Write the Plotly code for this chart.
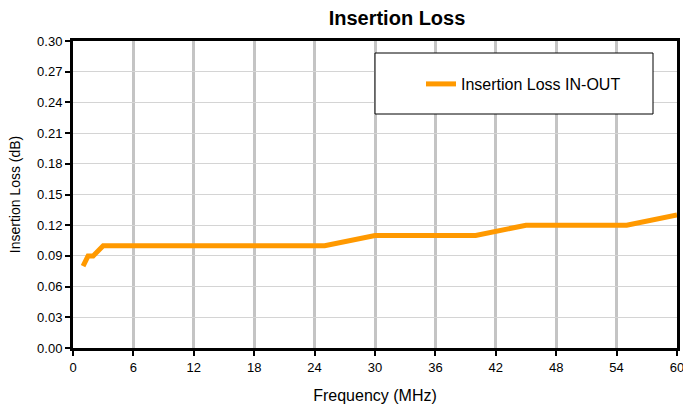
import plotly.graph_objects as go

freq_mhz = [1, 1.5, 2, 3, 25, 30, 40, 45, 55, 60]
insertion_loss_db = [0.08, 0.09, 0.09, 0.10, 0.10, 0.11, 0.11, 0.12, 0.12, 0.13]
series_name = "Insertion Loss IN-OUT"
x_ticks = [0, 6, 12, 18, 24, 30, 36, 42, 48, 54, 60]
y_ticks = [0.00, 0.03, 0.06, 0.09, 0.12, 0.15, 0.18, 0.21, 0.24, 0.27, 0.30]

FONT = "Liberation Sans, Arial, sans-serif"

fig = go.Figure()
fig.add_trace(go.Scatter(
    x=freq_mhz, y=insertion_loss_db, mode="lines", name=series_name,
    line=dict(color="#FF9900", width=5),
    showlegend=True,
))

W, H = 683, 410
L, R, T, B = 73, 6, 41, 62

def px_x(p):
    return (p - L) / (W - L - R)

def px_y(p):
    return 1 - (p - T) / (H - T - B)

# legend frame
fig.add_shape(type="rect", xref="paper", yref="paper",
              x0=px_x(375), x1=px_x(653), y0=px_y(114), y1=px_y(53),
              line=dict(color="black", width=1), fillcolor="white", layer="above")

fig.update_layout(
    width=W, height=H,
    margin=dict(l=L, r=R, t=T, b=B, autoexpand=False),
    paper_bgcolor="white", plot_bgcolor="white",
    font=dict(family=FONT, size=12, color="black"),
    title=dict(text="<b>Insertion Loss</b>", x=397 / W, xanchor="center",
               y=1 - 18 / H, yanchor="middle", font=dict(size=20, family=FONT)),
    legend=dict(x=px_x(421), y=px_y(84), xanchor="left", yanchor="middle",
                bgcolor="rgba(0,0,0,0)", borderwidth=0,
                font=dict(size=16, family=FONT)),
    showlegend=True,
)
fig.update_xaxes(
    range=[0, 60], tickvals=x_ticks, ticktext=[str(v) for v in x_ticks],
    showgrid=True, gridcolor="#c4c4c4", gridwidth=3,
    showline=True, linecolor="black", linewidth=3, mirror=True,
    ticks="outside", ticklen=5, tickwidth=2, tickcolor="black",
    tickfont=dict(size=13), ticklabeloverflow="allow",
    zeroline=False, automargin=False,
    title=dict(text="Frequency (MHz)", font=dict(size=16), standoff=17),
)
fig.update_yaxes(
    range=[0, 0.30], tickvals=y_ticks, ticktext=[f"{v:.2f}" for v in y_ticks],
    showgrid=True, gridcolor="#d4d4d4", gridwidth=1,
    showline=True, linecolor="black", linewidth=3, mirror=True,
    ticks="outside", ticklen=5, tickwidth=2, tickcolor="black",
    tickfont=dict(size=13),
    zeroline=False, automargin=False,
    title=dict(text="Insertion Loss (dB)", font=dict(size=14), standoff=14),
)

fig.write_html(
    "out.html",
    config={"displayModeBar": False},
    post_script="document.body.style.margin='0';document.body.style.padding='0';"
                "document.body.style.overflow='hidden';",
)
